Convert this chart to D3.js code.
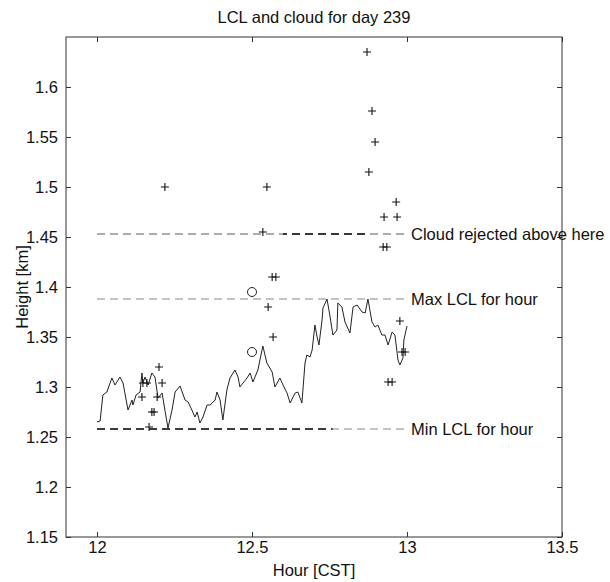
<!DOCTYPE html>
<html><head><meta charset="utf-8">
<script src="https://cdn.jsdelivr.net/npm/d3@7"></script>
<style>body{margin:0;background:#fff}svg{display:block}text{font-family:"Liberation Sans",Arial,Helvetica,sans-serif;fill:#111}</style>
</head><body>
<script>
// LCL time series (hour CST, km)
const lclHour = [12.0,12.010,12.019,12.032,12.048,12.058,12.074,12.084,12.100,12.113,12.116,12.126,12.139,12.145,12.148,12.155,12.165,12.177,12.187,12.197,12.210,12.219,12.229,12.242,12.252,12.268,12.284,12.294,12.306,12.316,12.323,12.332,12.342,12.355,12.365,12.381,12.387,12.397,12.406,12.419,12.429,12.445,12.455,12.461,12.471,12.484,12.494,12.503,12.519,12.535,12.548,12.565,12.574,12.590,12.600,12.613,12.623,12.639,12.648,12.661,12.671,12.677,12.687,12.694,12.703,12.710,12.716,12.726,12.729,12.742,12.752,12.761,12.774,12.777,12.790,12.800,12.816,12.826,12.839,12.855,12.865,12.874,12.887,12.897,12.906,12.919,12.929,12.939,12.952,12.961,12.971,12.977,12.987,12.990,13.000];
const lclKm = [1.265,1.266,1.292,1.295,1.309,1.302,1.310,1.304,1.277,1.287,1.282,1.292,1.295,1.314,1.304,1.310,1.302,1.314,1.310,1.289,1.294,1.277,1.259,1.277,1.295,1.301,1.287,1.285,1.277,1.270,1.275,1.264,1.270,1.282,1.282,1.287,1.295,1.287,1.267,1.297,1.309,1.317,1.310,1.300,1.304,1.309,1.314,1.305,1.317,1.341,1.324,1.315,1.300,1.309,1.302,1.294,1.284,1.294,1.295,1.284,1.324,1.332,1.330,1.337,1.362,1.350,1.342,1.367,1.379,1.388,1.370,1.352,1.357,1.384,1.380,1.365,1.354,1.380,1.382,1.375,1.374,1.388,1.365,1.360,1.362,1.352,1.352,1.342,1.355,1.352,1.327,1.322,1.329,1.347,1.361];
// cloud base detections (+)
const cloudHour = [12.219,12.548,12.535,12.565,12.577,12.552,12.568,12.200,12.148,12.161,12.210,12.145,12.194,12.177,12.184,12.168,12.871,12.887,12.897,12.877,12.965,12.926,12.968,12.923,12.935,12.977,12.984,12.994,12.939,12.952];
const cloudKm = [1.500,1.500,1.455,1.410,1.410,1.380,1.350,1.320,1.304,1.304,1.304,1.290,1.290,1.275,1.275,1.260,1.635,1.576,1.545,1.515,1.485,1.470,1.470,1.440,1.440,1.366,1.335,1.335,1.305,1.305];
// circles
const circHour = [12.5,12.5];
const circKm = [1.395,1.335];
// reference levels
const refNames = ["Cloud rejected above here","Max LCL for hour","Min LCL for hour"];
const refKm = [1.453,1.388,1.258];
const refStart = 12.0, refEnd = 13.0;
// darker stretch of each dashed level as seen in the print
const refBase = ["#5a5a5a","#888","#888"];
const refDarkFrom = [12.6,12.0,12.0];
const refDarkTo = [12.88,12.0,12.76];
const xTicks = [12,12.5,13,13.5];
const yTicks = [1.15,1.2,1.25,1.3,1.35,1.4,1.45,1.5,1.55,1.6];

const W=610,H=582, L=66,R=562,T=37,B=537, FS=16.5;
const svg=d3.select("body").append("svg").attr("width",W).attr("height",H);
const x=d3.scaleLinear().domain([11.9,13.5]).range([L,R]);
const y=d3.scaleLinear().domain([1.15,1.65]).range([B,T]);

const fmt = d => String(+d.toFixed(2));
const gx=svg.append("g").attr("transform",`translate(0,${B})`)
  .call(d3.axisBottom(x).tickValues(xTicks).tickFormat(fmt).tickSizeInner(-5).tickSizeOuter(0).tickPadding(9));
const gxt=svg.append("g").attr("transform",`translate(0,${T})`)
  .call(d3.axisTop(x).tickValues(xTicks).tickFormat("").tickSizeInner(-5).tickSizeOuter(0));
const gy=svg.append("g").attr("transform",`translate(${L},0)`)
  .call(d3.axisLeft(y).tickValues(yTicks).tickFormat(fmt).tickSizeInner(-5).tickSizeOuter(0).tickPadding(8));
const gyr=svg.append("g").attr("transform",`translate(${R},0)`)
  .call(d3.axisRight(y).tickValues(yTicks).tickFormat("").tickSizeInner(-5).tickSizeOuter(0));
[gx,gxt,gy,gyr].forEach(g=>{g.selectAll(".domain").remove();g.selectAll("line").attr("stroke","#333");g.selectAll("text").attr("font-size",FS).attr("fill","#111").style("font-family",'"Liberation Sans",Arial,sans-serif');});
gy.selectAll("text").attr("dy","0.35em");
gx.selectAll("text").attr("dy","0.71em").attr("y",4);
svg.append("rect").attr("x",L).attr("y",T).attr("width",R-L).attr("height",B-T).attr("fill","none").attr("stroke","#333").attr("stroke-width",1);

// reference dashed lines (grey base + darker stretch, dash pattern kept in phase)
refKm.forEach((v,i)=>{
  svg.append("line").attr("x1",x(refStart)).attr("x2",x(refEnd)).attr("y1",y(v)).attr("y2",y(v))
    .attr("stroke",refBase[i]).attr("stroke-width",1.2).attr("stroke-dasharray","8,5");
  if (refDarkTo[i]>refDarkFrom[i]) {
    const off = x(refDarkFrom[i]) - x(refStart);
    svg.append("line").attr("x1",x(refDarkFrom[i])).attr("x2",x(refDarkTo[i])).attr("y1",y(v)).attr("y2",y(v))
      .attr("stroke","#111").attr("stroke-width",1.4).attr("stroke-dasharray","8,5")
      .attr("stroke-dashoffset",off);
  }
  svg.append("text").attr("x",x(refEnd)+4).attr("y",y(v)).attr("dy","0.35em").attr("font-size",FS).text(refNames[i]);
});

// LCL line
const pts=lclHour.map((h,i)=>[h,lclKm[i]]);
svg.append("path").attr("d",d3.line().x(d=>x(d[0])).y(d=>y(d[1]))(pts))
  .attr("fill","none").attr("stroke","#222").attr("stroke-width",1);

// plus markers
const s=4;
cloudHour.forEach((h,i)=>{
  const cx=x(h), cy=y(cloudKm[i]);
  svg.append("path").attr("d",`M${cx-s},${cy}H${cx+s}M${cx},${cy-s}V${cy+s}`).attr("stroke","#111").attr("stroke-width",1.1).attr("fill","none");
});
circHour.forEach((h,i)=>{
  svg.append("circle").attr("cx",x(h)).attr("cy",y(circKm[i])).attr("r",4.5).attr("fill","none").attr("stroke","#222").attr("stroke-width",1);
});

// labels
svg.append("text").attr("x",(L+R)/2).attr("y",23).attr("text-anchor","middle").attr("font-size",FS).text("LCL and cloud for day 239");
svg.append("text").attr("x",(L+R)/2).attr("y",576).attr("text-anchor","middle").attr("font-size",FS).text("Hour [CST]");
svg.append("text").attr("transform",`translate(28,${(T+B)/2}) rotate(-90)`).attr("text-anchor","middle").attr("font-size",FS).text("Height [km]");
</script>
</body></html>
